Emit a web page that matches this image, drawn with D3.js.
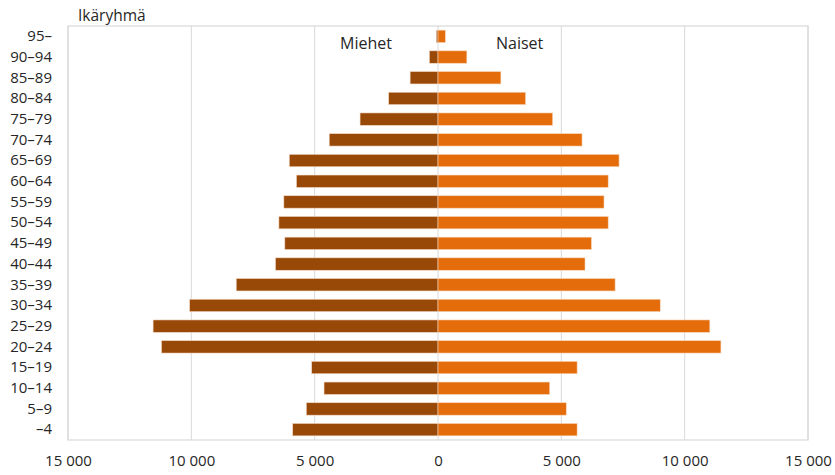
<!DOCTYPE html>
<html>
<head>
<meta charset="utf-8">
<script src="https://cdn.jsdelivr.net/npm/d3@7"></script>
<style>
  html, body { margin: 0; padding: 0; background: #fff; }
  svg { display: block; font-family: "Open Sans", "Liberation Sans", sans-serif; }
</style>
</head>
<body>
<svg id="chart" width="835" height="475"></svg>
<script>
// Age groups, oldest at the top
const ageGroups = ["95–", "90–94", "85–89", "80–84", "75–79", "70–74", "65–69", "60–64",
  "55–59", "50–54", "45–49", "40–44", "35–39", "30–34", "25–29", "20–24",
  "15–19", "10–14", "5–9", "–4"];

// Population by age group
const men = [70, 350, 1130, 2000, 3160, 4410, 6030, 5740, 6250, 6450, 6210, 6590,
  8180, 10070, 11550, 11210, 5120, 4620, 5340, 5890];
const women = [300, 1170, 2550, 3550, 4650, 5840, 7340, 6900, 6730, 6900, 6220, 5960,
  7180, 9010, 11020, 11470, 5640, 4530, 5200, 5640];

const xTicks = [-15000, -10000, -5000, 0, 5000, 10000, 15000];

const colorMen = "#984807";
const colorWomen = "#E46C0A";
const gridColor = "#d9d9d9";
const textColor = "#262626";

const svg = d3.select("#chart");
const plot = { left: 68, right: 808, top: 26, bottom: 440 };

const x = d3.scaleLinear().domain([-15000, 15000]).range([plot.left, plot.right]);
const y = d3.scaleBand().domain(ageGroups).range([plot.top, plot.bottom]).paddingInner(0.4).paddingOuter(0.2);

// Thousands separated by a space, sign dropped on the men's side
const fmt = v => d3.format(",")(Math.abs(v)).replace(/,/g, " ");

// Vertical gridlines
svg.append("g")
  .selectAll("line")
  .data(xTicks)
  .join("line")
  .attr("x1", d => x(d)).attr("x2", d => x(d))
  .attr("y1", plot.top).attr("y2", plot.bottom)
  .attr("stroke", gridColor).attr("stroke-width", 1);

// Plot frame
svg.append("rect")
  .attr("x", plot.left).attr("y", plot.top)
  .attr("width", plot.right - plot.left).attr("height", plot.bottom - plot.top)
  .attr("fill", "none").attr("stroke", gridColor).attr("stroke-width", 1.2);

// Men bars (left)
svg.append("g")
  .selectAll("rect")
  .data(ageGroups.map((g, i) => ({ g, v: men[i] })))
  .join("rect")
  .attr("x", d => x(-d.v))
  .attr("y", d => y(d.g))
  .attr("width", d => x(0) - x(-d.v))
  .attr("height", y.bandwidth())
  .attr("fill", colorMen)
  .attr("stroke", "#f4d9c4").attr("stroke-width", 0.6);

// Women bars (right)
svg.append("g")
  .selectAll("rect")
  .data(ageGroups.map((g, i) => ({ g, v: women[i] })))
  .join("rect")
  .attr("x", x(0))
  .attr("y", d => y(d.g))
  .attr("width", d => x(d.v) - x(0))
  .attr("height", y.bandwidth())
  .attr("fill", colorWomen)
  .attr("stroke", "#f9d9bf").attr("stroke-width", 0.6);

// Category labels
const yAxis = d3.axisLeft(y).tickSize(0).tickPadding(0);
svg.append("g")
  .attr("transform", `translate(${52},0)`)
  .call(yAxis)
  .call(g => g.select(".domain").remove())
  .call(g => g.selectAll("text")
    .attr("fill", textColor)
    .style("font-size", "15px")
    .style("font-family", "'Open Sans', sans-serif"));

// Value axis labels
const xAxis = d3.axisBottom(x).tickValues(xTicks).tickSize(0).tickPadding(0).tickFormat(fmt);
svg.append("g")
  .attr("transform", `translate(0,${455})`)
  .call(xAxis)
  .call(g => g.select(".domain").remove())
  .call(g => g.selectAll("text")
    .attr("fill", textColor)
    .style("font-size", "15px")
    .style("font-family", "'Open Sans', sans-serif"));

// Axis title and series labels
svg.append("text").attr("x", 78).attr("y", 21)
  .attr("fill", textColor).style("font-size", "15.5px").text("Ikäryhmä");
svg.append("text").attr("x", 340).attr("y", 49)
  .attr("fill", textColor).style("font-size", "16px").text("Miehet");
svg.append("text").attr("x", 496).attr("y", 49)
  .attr("fill", textColor).style("font-size", "16px").text("Naiset");
</script>
</body>
</html>
